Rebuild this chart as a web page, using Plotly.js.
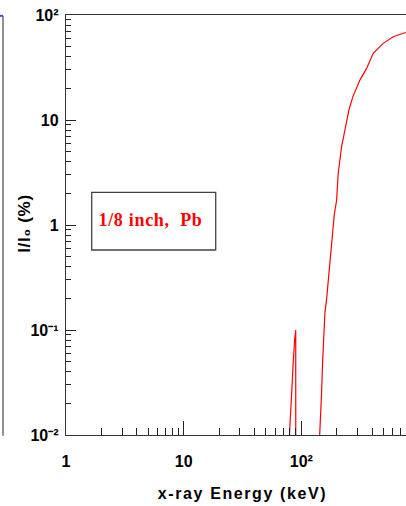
<!DOCTYPE html>
<html>
<head>
<meta charset="utf-8">
<script src="https://cdn.plot.ly/plotly-3.0.1.min.js"></script>
<style>
  html, body { margin: 0; padding: 0; background: #fff; overflow: hidden; }
  #chart { width: 430px; height: 506px; }
  /* the axis titles and the box label are set a little wider than the plain font */
  #chart .xtitle { letter-spacing: 1.6px; }
  #chart .annotation-text { letter-spacing: 0.7px; }
</style>
</head>
<body>
<div id="chart"></div>
<script>
// Photon energy (keV) and transmitted fraction I/I0 (%) through 1/8 inch of lead
const energyKeV = [76, 78.9, 81.1, 82.7, 85.4, 87.7, 89.6, 89.9, 120, 138, 144, 145.9, 148.7, 151.7,
  154.6, 158.6, 164, 168.2, 172.6, 177.4, 180.8, 184.5, 190.4, 199.6, 205.8, 212.7, 219.9,
  234.6, 253.7, 274.3, 298.4, 314.7, 358.7, 408.3, 496.6, 603.6, 758.6, 1000];
const transmission = [0.004, 0.0098, 0.020, 0.0315, 0.0499, 0.0804, 0.100, 1e-6, 1e-7, 0.004, 0.0099, 0.0139,
  0.0257, 0.0496, 0.0775, 0.145, 0.197, 0.268, 0.359, 0.499, 0.674, 0.896, 1.245, 1.73, 3.13, 4.16, 5.57,
  8.03, 12.45, 16.7, 21.2, 24.0, 31.0, 43.2, 53.7, 62.1, 67.8, 72];

// Axis tick positions and labels (powers of ten written with superscript digits)
const xTickVals = [1, 10, 100];
const xTickText = ['1', '10', '10²'];
const xMinorVals = [2, 3, 4, 5, 6, 7, 8, 9, 20, 30, 40, 50, 60, 70, 80, 90, 200, 300, 400, 500, 600, 700, 800, 900];
const yTickVals = [0.01, 0.1, 1, 10, 100];
const yTickText = ['10⁻²', '10⁻¹', '1', '10', '10²'];
const yMinorVals = [0.02, 0.03, 0.04, 0.05, 0.06, 0.07, 0.08, 0.09, 0.2, 0.3, 0.4, 0.5, 0.6, 0.7, 0.8, 0.9,
  2, 3, 4, 5, 6, 7, 8, 9, 20, 30, 40, 50, 60, 70, 80, 90];

const xTitle = 'x-ray Energy (keV)';
const yTitle = 'I/I₀ (%)';
const labelText = '1/8 inch,&nbsp; Pb';

const trace = {
  x: energyKeV,
  y: transmission,
  type: 'scatter',
  mode: 'lines',
  line: { color: '#ff0000', width: 1.2 },
  hoverinfo: 'x+y'
};

const layout = {
  width: 430,
  height: 506,
  margin: { l: 66, r: 11, t: 15, b: 71, pad: 0 },
  font: { family: 'Liberation Sans, Arial, sans-serif', size: 16, color: '#000000', weight: 'bold' },
  paper_bgcolor: '#ffffff',
  plot_bgcolor: '#ffffff',
  showlegend: false,
  xaxis: {
    type: 'log',
    range: [0, 3],
    showgrid: false,
    zeroline: false,
    showline: true,
    linecolor: '#333',
    linewidth: 1.2,
    mirror: true,
    ticks: 'inside',
    ticklen: 14,
    tickwidth: 1,
    tickcolor: '#222',
    tickmode: 'array',
    tickvals: xTickVals,
    ticktext: xTickText,
    tickfont: { family: 'Liberation Sans, Arial, sans-serif', size: 16, color: '#000000', weight: 'bold' },
    ticklabelstandoff: 12,
    minor: { tickmode: 'array', tickvals: xMinorVals, ticks: 'inside', ticklen: 7, tickwidth: 1, tickcolor: '#222', showgrid: false },
    title: {
      text: xTitle,
      font: { family: 'Liberation Sans, Arial, sans-serif', size: 16, color: '#000000', weight: 'bold' },
      standoff: 18
    },
    automargin: false
  },
  yaxis: {
    type: 'log',
    range: [-2, 2],
    showgrid: false,
    zeroline: false,
    showline: true,
    linecolor: '#333',
    linewidth: 1.2,
    mirror: true,
    ticks: 'inside',
    ticklen: 10,
    tickwidth: 1,
    tickcolor: '#222',
    tickmode: 'array',
    tickvals: yTickVals,
    ticktext: yTickText,
    tickfont: { family: 'Liberation Sans, Arial, sans-serif', size: 16, color: '#000000', weight: 'bold' },
    ticklabelstandoff: 3,
    minor: { tickmode: 'array', tickvals: yMinorVals, ticks: 'inside', ticklen: 5, tickwidth: 1, tickcolor: '#222', showgrid: false },
    automargin: false
  },
  shapes: [
    // edge of the neighbouring pad on the left
    { type: 'line', xref: 'paper', yref: 'paper', x0: -0.1785, x1: -0.1785, y0: -0.002, y1: 0.998,
      line: { color: '#555', width: 1.3 } },
    { type: 'line', xref: 'paper', yref: 'paper', x0: -0.19, x1: -0.1785, y0: 0.998, y1: 0.998,
      line: { color: '#3355dd', width: 2 } },
    // label box
    { type: 'rect', xref: 'paper', yref: 'paper', x0: 0.0728, x1: 0.4241, y0: 0.4405, y1: 0.5779,
      line: { color: '#444', width: 1.3 }, fillcolor: 'rgba(255,255,255,0)' }
  ],
  annotations: [
    // label inside the box
    { xref: 'paper', yref: 'paper', x: 0.0995, y: 0.5119, xanchor: 'left', yanchor: 'middle',
      text: labelText, showarrow: false,
      font: { family: 'Liberation Serif, Times New Roman, serif', size: 18, color: '#ff0000', weight: 'bold' } },
    // vertical axis title, placed close to the tick labels
    { xref: 'paper', yref: 'paper', x: -0.1161, y: 0.5024, xanchor: 'center', yanchor: 'middle',
      text: yTitle, textangle: -90, showarrow: false,
      font: { family: 'Liberation Sans, Arial, sans-serif', size: 17, color: '#000000', weight: 'bold' } }
  ]
};

Plotly.newPlot('chart', [trace], layout, { displayModeBar: false, staticPlot: true });
</script>
</body>
</html>
